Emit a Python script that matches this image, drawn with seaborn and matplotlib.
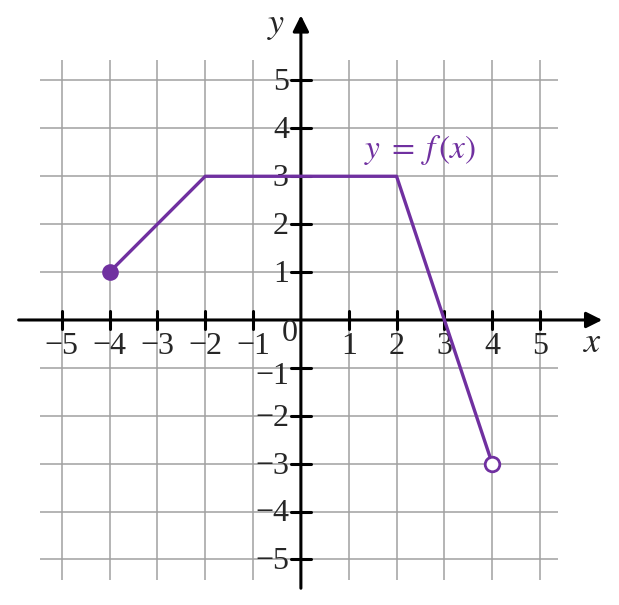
import matplotlib
matplotlib.use("Agg")
import matplotlib.pyplot as plt
import seaborn as sns
import pandas as pd

# ── data ─────────────────────────────────────────────────────────────
fx = [-4, -2, 2, 3, 4]
fy = [1, 3, 3, 0, -3]
closed_pt = (-4, 1)
open_pt = (4, -3)
ticks = [-5, -4, -3, -2, -1, 1, 2, 3, 4, 5]
curve_label = "$y\\;=\\;f\\,(x)$"

PURPLE = "#7030a0"
GRID = "#a0a0a0"

sns.set_theme(style="white")
plt.rcParams["font.family"] = ["Liberation Serif", "DejaVu Serif"]
plt.rcParams["mathtext.fontset"] = "stix"

fig = plt.figure(figsize=(6.19, 6.05), dpi=100)
ax = fig.add_axes([0, 0, 1, 1])

# grid (limited extent)
G = 5.42
ax.vlines(range(-5, 6), -G, G, color=GRID, lw=1.1, zorder=1)
ax.hlines(range(-5, 6), -G - 0.03, G - 0.05, color=GRID, lw=1.1, zorder=1)

# axes with arrows
ax.annotate("", xy=(6.3, 0), xytext=(-5.9, 0),
            arrowprops=dict(arrowstyle="-|>", lw=2.2, color="black",
                            mutation_scale=24, shrinkA=0, shrinkB=0), zorder=3)
ax.annotate("", xy=(0, 6.36), xytext=(0, -5.6),
            arrowprops=dict(arrowstyle="-|>", lw=2.2, color="black",
                            mutation_scale=24, shrinkA=0, shrinkB=0), zorder=3)

fs = 23
for t in ticks:
    ax.plot([t, t], [-0.18, 0.18], color="black", lw=2.2, zorder=3)
    ax.plot([-0.2, 0.22], [t, t], color="black", lw=2.2, zorder=3)
    lab = f"\u2212{abs(t)}" if t < 0 else str(t)
    ax.text(t, -0.56, lab, ha="center", va="center", fontsize=fs, zorder=4)
    # the -1 label on y sits a bit lower to clear the x labels
    yoff = -0.18 if t == -1 else -0.05
    ax.text(-0.25, t + yoff, lab, ha="right", va="center", fontsize=fs, zorder=4)
ax.text(-0.23, -0.28, "0", ha="center", va="center", fontsize=fs, zorder=4)

ax.text(6.1, -0.5, "$x$", ha="center", va="center", fontsize=fs + 3)
ax.text(-0.52, 6.14, "$y$", ha="center", va="center", fontsize=fs + 3)

# function
df = pd.DataFrame({"x": fx, "y": fy})
sns.lineplot(data=df, x="x", y="y", color=PURPLE, lw=2.4, sort=False,
             ax=ax, zorder=5)
sns.scatterplot(x=[closed_pt[0]], y=[closed_pt[1]], color=PURPLE, s=110,
                edgecolor=PURPLE, linewidth=1.5, ax=ax, zorder=6)
sns.scatterplot(x=[open_pt[0]], y=[open_pt[1]], color="white", s=110,
                edgecolor=PURPLE, linewidth=2, ax=ax, zorder=6)
ax.text(2.5, 3.55, curve_label, ha="center", va="center", fontsize=fs + 1,
        color=PURPLE, zorder=4)
ax.axis("off")
ax.set_xlim(-6.29, 6.65)
ax.set_ylim(-5.95, 6.68)

fig.savefig("out.png", dpi=100)
